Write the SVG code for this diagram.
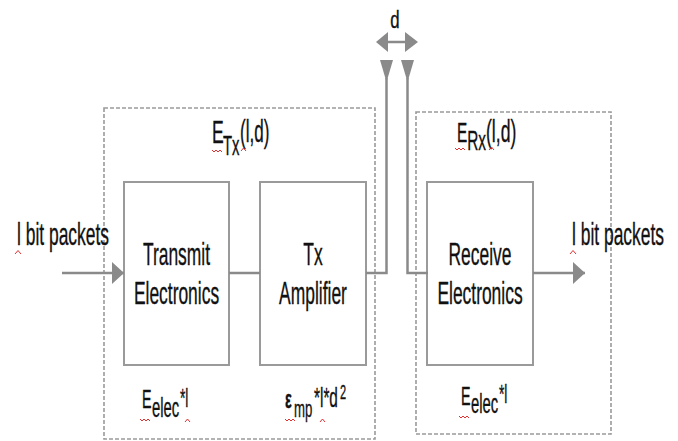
<svg xmlns="http://www.w3.org/2000/svg" width="678" height="441" viewBox="0 0 678 441">
<defs>
<style>
.t{font-family:"Liberation Sans",Arial,sans-serif;fill:#111;stroke:#111;stroke-width:0.35}
.box{fill:#fff;stroke:#9a9a9a;stroke-width:2}
.dash{fill:none;stroke:#9a9a9a;stroke-width:1.6;stroke-dasharray:4 2}
.ln{fill:none;stroke:#8a8a8a;stroke-width:2.5}
.hd{fill:#8a8a8a}
.sq{fill:none;stroke:#e03030;stroke-width:1}
</style>
<marker id="ah" markerUnits="userSpaceOnUse" markerWidth="12" markerHeight="22" refX="12" refY="11" orient="auto">
<path d="M0,0 L12,11 L0,22 z" fill="#8a8a8a"/>
</marker>
</defs>
<rect width="678" height="441" fill="#fff"/>

<g id="tx-boundary">
<rect class="dash" x="104" y="108" width="271" height="331"/>
<text class="t" transform="translate(212,0) scale(0.55,1)"><tspan x="0" y="143" font-size="32">E</tspan><tspan x="20" y="155" font-size="27">Tx</tspan><tspan x="51" y="142" font-size="31">(l,d)</tspan></text>
<path class="sq" d="M212,150 l2,2 l2,-2 l2,2 l2,-2 l2,2"/>
<path class="sq" d="M241,151 l2.5,-3 l2.5,3"/>
</g>

<g id="rx-boundary">
<rect class="dash" x="416" y="112" width="195" height="322"/>
<text class="t" transform="translate(457,0) scale(0.55,1)"><tspan x="0" y="142" font-size="28">E</tspan><tspan x="18.5" y="150" font-size="28">Rx</tspan><tspan x="52.7" y="142" font-size="32">(l,d)</tspan></text>
<path class="sq" d="M455,148 l2,2 l2,-2 l2,2 l2,-2 l2,2"/>
<path class="sq" d="M489,150 l2.5,-3 l2.5,3"/>
</g>

<g id="transmit-electronics">
<rect class="box" x="124" y="182" width="105" height="183"/>
<text class="t" font-size="32" text-anchor="middle" transform="translate(176.5,265) scale(0.545,1)">Transmit</text>
<text class="t" font-size="32" text-anchor="middle" transform="translate(176.5,304) scale(0.545,1)">Electronics</text>
</g>

<g id="tx-amplifier">
<rect class="box" x="260" y="182" width="106" height="183"/>
<text class="t" font-size="32" text-anchor="middle" transform="translate(313,265) scale(0.545,1)">Tx</text>
<text class="t" font-size="32" text-anchor="middle" transform="translate(313,304) scale(0.545,1)">Amplifier</text>
</g>

<g id="receive-electronics">
<rect class="box" x="427" y="182" width="106" height="183"/>
<text class="t" font-size="32" text-anchor="middle" transform="translate(480,265) scale(0.545,1)">Receive</text>
<text class="t" font-size="32" text-anchor="middle" transform="translate(480,304) scale(0.545,1)">Electronics</text>
</g>

<g id="input-label">
<text class="t" font-size="32" transform="translate(17,245) scale(0.545,1)">l bit packets</text>
<path class="sq" d="M15,254 l3,-3.5 l3,3.5"/>
</g>

<g id="output-label">
<text class="t" font-size="32" transform="translate(572,245) scale(0.545,1)">l bit packets</text>
<path class="sq" d="M570,254 l3,-3.5 l3,3.5"/>
</g>

<g id="tx-elec-energy">
<text class="t" transform="translate(142,0) scale(0.55,1)"><tspan x="0" y="408" font-size="26">E</tspan><tspan x="18.2" y="417" font-size="27">elec</tspan><tspan x="69" y="407" font-size="25">*l</tspan></text>
<path class="sq" d="M140,419 l2,2 l2,-2 l2,2 l2,-2 l2,2"/>
<path class="sq" d="M185,422 l2.5,-3 l2.5,3"/>
</g>

<g id="amp-energy">
<text class="t" transform="translate(285,0) scale(0.55,1)"><tspan x="0" y="408" font-size="26" font-weight="bold">ε</tspan><tspan x="16.4" y="417" font-size="24">mp</tspan><tspan x="52.7" y="407" font-size="28">*l*d</tspan><tspan x="100" y="399" font-size="20">2</tspan></text>
<path class="sq" d="M285,419 l2,2 l2,-2 l2,2 l2,-2 l2,2"/>
<path class="sq" d="M320,422 l2.5,-3 l2.5,3"/>
</g>

<g id="rx-elec-energy">
<text class="t" transform="translate(461,0) scale(0.55,1)"><tspan x="0" y="405" font-size="26">E</tspan><tspan x="18.2" y="413" font-size="27">elec</tspan><tspan x="69" y="403" font-size="25">*l</tspan></text>
<path class="sq" d="M459,416 l2,2 l2,-2 l2,2 l2,-2 l2,2"/>
</g>

<g id="distance">
<text class="t" font-size="24" text-anchor="middle" transform="translate(395,28) scale(0.7,1)">d</text>
<line class="ln" x1="387" y1="42" x2="406" y2="42" stroke-width="3"/>
<polygon class="hd" points="376,42 388,32 388,52"/>
<polygon class="hd" points="418,42 405,32 405,52"/>
</g>

<g id="connectors">
<line class="ln" x1="62" y1="273" x2="124" y2="273" marker-end="url(#ah)"/>
<line class="ln" x1="229" y1="273" x2="260" y2="273"/>
<polyline class="ln" points="366,273 386.5,273 386.5,78"/>
<polygon class="hd" points="380,60 393,60 386.5,82"/>
<polyline class="ln" points="428,273 407.5,273 407.5,78"/>
<polygon class="hd" points="401,60 414,60 407.5,82"/>
<line class="ln" x1="533" y1="273" x2="585" y2="273" marker-end="url(#ah)"/>
</g>
</svg>
